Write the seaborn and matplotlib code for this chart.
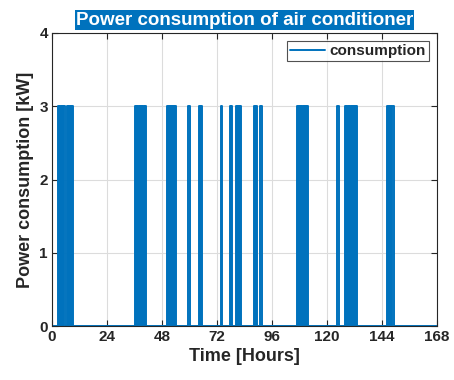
import matplotlib
matplotlib.use("Agg")
import matplotlib.pyplot as plt
import seaborn as sns
import pandas as pd

# ON intervals (hours); power is 3 kW when on, 0 otherwise
on_start = [2.6, 3.4, 4.2, 5.0, 6.5, 7.3, 8.1, 8.8,
            36.2, 36.9, 37.6, 38.3, 39.0, 39.7, 40.4,
            50.2, 50.9, 51.6, 52.3, 53.0, 53.6,
            59.4, 64.2, 64.9,
            73.8, 77.7, 78.2, 80.3, 81.0, 81.7, 82.2,
            88.3, 89.0, 90.8,
            107.0, 107.7, 108.4, 109.1, 109.8, 110.5, 111.2,
            124.5, 128.0, 128.7, 129.4, 130.1, 130.8, 131.5, 132.2, 132.8,
            146.3, 147.0, 147.7, 148.5]
on_end = [3.1, 3.9, 4.7, 5.7, 7.0, 7.8, 8.5, 9.2,
          36.6, 37.3, 38.0, 38.7, 39.4, 40.1, 41.0,
          50.6, 51.3, 52.0, 52.7, 53.3, 54.1,
          60.0, 64.6, 65.5,
          74.2, 78.0, 78.6, 80.7, 81.4, 82.0, 82.5,
          88.7, 89.5, 91.7,
          107.4, 108.1, 108.8, 109.5, 110.2, 110.9, 111.8,
          125.3, 128.4, 129.1, 129.8, 130.5, 131.2, 131.9, 132.5, 133.2,
          146.7, 147.4, 148.1, 149.3]
on_power = 3.0
horizon = 168.0

x_ticks = [0, 24, 48, 72, 96, 120, 144, 168]
y_ticks = [0, 1, 2, 3, 4]

t, p = [0.0], [0.0]
for a, b in zip(on_start, on_end):
    t += [a, a, b, b]
    p += [0.0, on_power, on_power, 0.0]
t.append(horizon)
p.append(0.0)
df = pd.DataFrame({"Time": t, "Power": p, "series": "consumption"})

sns.set_theme(style="whitegrid")
plt.rcParams["font.family"] = ["Liberation Sans", "DejaVu Sans"]

fig = plt.figure(figsize=(4.54, 3.8), dpi=100)
ax = fig.add_axes([52/454, 1-326/380, (437-52)/454, (326-33)/380])

blue = "#0072BD"
sns.lineplot(data=df, x="Time", y="Power", hue="series", palette=[blue],
             sort=False, estimator=None, linewidth=1.4, ax=ax)

ax.set_xlim(0, 168)
ax.set_ylim(0, 4)
ax.set_xticks(x_ticks)
ax.set_yticks(y_ticks)
ax.grid(True, color="#dcdcdc", linewidth=0.8)
for s in ax.spines.values():
    s.set_color("#262626")
    s.set_linewidth(0.8)
    s.set_visible(True)
ax.tick_params(direction="in", length=4, width=0.8, color="#262626",
               top=True, right=True, bottom=True, left=True,
               labelsize=11, labelcolor="#262626", pad=3)
for lab in ax.get_xticklabels() + ax.get_yticklabels():
    lab.set_fontweight("bold")

ax.set_xlabel("Time [Hours]", fontsize=13, fontweight="bold", color="#262626", labelpad=3)
ax.set_ylabel("Power consumption [kW]", fontsize=13, fontweight="bold", color="#262626", labelpad=4)
ax.set_title("Power consumption of air conditioner", fontsize=13.5, fontweight="bold",
             color="white", pad=6,
             bbox=dict(facecolor=blue, edgecolor="none", pad=1.0))

leg = ax.legend(loc="upper right", fontsize=11, frameon=True, fancybox=False,
                borderpad=0.2, handlelength=2.3, handletextpad=0.3,
                borderaxespad=0.0, bbox_to_anchor=(0.979, 0.973))
leg.get_frame().set_edgecolor("#262626")
leg.get_frame().set_linewidth(0.8)
for txt in leg.get_texts():
    txt.set_fontweight("bold")
    txt.set_color("#262626")

fig.savefig("out.png", dpi=100, facecolor="white")
